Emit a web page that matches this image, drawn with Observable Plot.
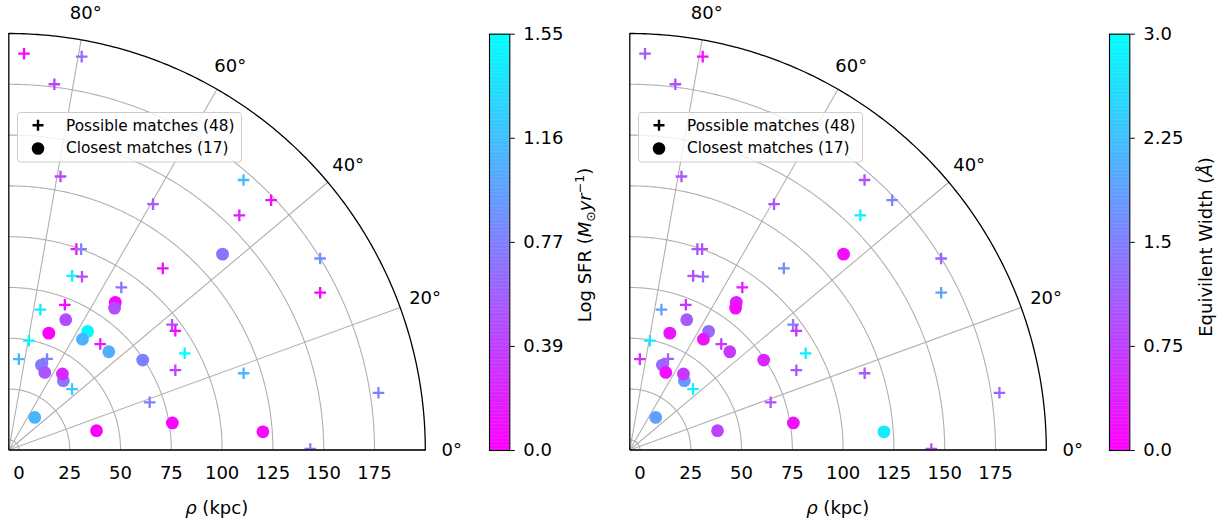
<!DOCTYPE html>
<html>
<head>
<meta charset="utf-8">
<script src="https://cdn.jsdelivr.net/npm/d3@7"></script>
<script src="https://cdn.jsdelivr.net/npm/@observablehq/plot@0.6"></script>
<style>
  html, body { margin: 0; padding: 0; background: #fff; }
  #root { position: relative; width: 1225px; height: 523px; overflow: hidden; font-family: "DejaVu Sans", sans-serif; color: #000; }
  .cblabel { position: absolute; white-space: nowrap; font-size: 18px; transform: translate(-50%, -50%) rotate(-90deg); }
  .cblabel sub, .cblabel sup { font-size: 12.5px; }
  .xlabel { position: absolute; white-space: nowrap; font-size: 18px; transform: translate(-50%, -50%); }
</style>
</head>
<body>
<div id="root"></div>
<script>
// ---------------- data ----------------
const rhoTicks = [0, 25, 50, 75, 100, 125, 150, 175];   // kpc
const thetaTicks = [0, 20, 40, 60, 80];                  // degrees
const R_MIN = -5, R_MAX = 200;                           // radial limits (kpc)

// Possible matches (visible in the 0-90 deg wedge)
const possibleRho   = [190.2, 191.9, 176.4, 132.0, 135.3, 171.1, 173.3, 156.9, 174.9, 166.7, 112.2, 99.3, 100.1, 86.2, 87.6, 92.3, 71.6, 65.8, 49.7, 40.0, 43.6, 63.9, 96.3, 95.8, 93.8, 85.9, 116.6, 38.2, 68.2, 179.1, 143.4];
const possibleTheta = [87.8, 79.5, 82.9, 79.3, 59.6, 49.0, 43.6, 45.5, 31.6, 26.8, 49.7, 71.4, 70.2, 70.0, 67.1, 55.3, 68.9, 77.3, 79.6, 83.7, 67.2, 49.2, 37.5, 35.6, 28.8, 25.6, 18.1, 43.9, 18.7, 8.8, 0.2];
const possibleSFR   = [0.03, 0.62, 0.39, 0.43, 0.54, 1.12, 0.05, 0.19, 0.90, 0.00, 0.08, 0.08, 0.78, 1.50, 0.47, 0.70, 0.08, 1.43, 1.47, 1.09, 0.78, 0.16, 0.47, 0.08, 1.55, 0.39, 1.12, 1.24, 0.78, 0.78, 0.78];
const possibleEW    = [1.05, 0.15, 0.90, 1.05, 0.96, 0.90, 1.56, 2.85, 1.20, 1.86, 1.65, 1.05, 0.90, 0.90, 1.20, 0.30, 0.60, 1.86, 2.70, 0.54, 1.14, 0.60, 1.50, 0.60, 2.85, 0.99, 1.05, 2.85, 0.90, 1.20, 0.90];

// Closest matches
const closestRho   = [137.7, 84.6, 82.1, 65.0, 55.8, 65.1, 60.5, 64.0, 74.4, 39.8, 37.1, 38.4, 40.8, 15.5, 39.2, 76.6, 120.4];
const closestTheta = [42.5, 54.2, 53.3, 66.4, 71.1, 56.4, 56.4, 44.5, 33.9, 69.0, 65.1, 51.8, 54.8, 51.5, 12.4, 9.4, 4.1];
const closestSFR   = [0.70, 0.03, 0.47, 0.47, 0.00, 1.50, 1.09, 1.05, 0.78, 0.74, 0.50, 0.74, 0.23, 1.09, 0.00, 0.03, 0.05];
const closestEW    = [0.15, 0.36, 0.15, 1.05, 0.24, 1.20, 0.24, 0.66, 0.45, 1.20, 0.15, 1.80, 0.66, 1.86, 0.75, 0.15, 2.76];

// colorbars
const sfrDomain = [0, 1.55];
const sfrTicks = [0, 0.3875, 0.775, 1.1625, 1.55];
const sfrTickLabels = ["0.0", "0.39", "0.77", "1.16", "1.55"];
const ewDomain = [0, 3.0];
const ewTicks = [0, 0.75, 1.5, 2.25, 3.0];
const ewTickLabels = ["0.0", "0.75", "1.5", "2.25", "3.0"];

const legendLabels = ["Possible matches (48)", "Closest matches (17)"];

// ---------------- helpers ----------------
const cmap = d3.interpolateRgb("#ff00ff", "#00ffff"); // cool_r
const rad = d => d * Math.PI / 180;
const X = (rho, th) => R_MIN + (rho - R_MIN) * Math.cos(rad(th));
const Y = (rho, th) => (rho - R_MIN) * Math.sin(rad(th));
const arc = r => d3.range(0, 90.25, 0.5).map(t => ({x: X(r, t), y: Y(r, t)}));
const LABEL_R = R_MIN + 443 / (416.5 / (R_MAX - R_MIN));

const plusSymbol = {
  draw(context, size) {
    const h = Math.sqrt(size / Math.PI);
    context.moveTo(-h, 0); context.lineTo(h, 0);
    context.moveTo(0, -h); context.lineTo(0, h);
  }
};

const baseStyle = {fontFamily: "'DejaVu Sans', sans-serif", fontSize: "18px", background: "transparent", overflow: "visible", color: "#000"};

function panel(pVals, cVals, domain) {
  const possible = possibleRho.map((r, i) => ({rho: r, theta: possibleTheta[i], v: pVals[i]}));
  const closest = closestRho.map((r, i) => ({rho: r, theta: closestTheta[i], v: cVals[i]}));
  return Plot.plot({
    width: 480, height: 523,
    marginLeft: 8.3, marginRight: 55.2, marginTop: 33, marginBottom: 73.5,
    style: baseStyle,
    x: {domain: [R_MIN, R_MAX], ticks: rhoTicks, tickSize: 0, tickPadding: 16, label: null, tickFormat: d => String(d)},
    y: {domain: [0, R_MAX - R_MIN], axis: null},
    color: {type: "linear", domain, interpolate: cmap},
    marks: [
      ...rhoTicks.map(r => Plot.line(arc(r), {x: "x", y: "y", stroke: "#b0b0b0", strokeWidth: 1.1})),
      Plot.link(thetaTicks, {x1: R_MIN, y1: 0, x2: t => X(R_MAX, t), y2: t => Y(R_MAX, t), stroke: "#b0b0b0", strokeWidth: 1.1}),
      Plot.dot(possible, {x: d => X(d.rho, d.theta), y: d => Y(d.rho, d.theta), stroke: "v", fill: "none", symbol: plusSymbol, r: 5.8, strokeWidth: 2.3, clip: true}),
      Plot.dot(closest, {x: d => X(d.rho, d.theta), y: d => Y(d.rho, d.theta), fill: "v", stroke: "none", r: 6.4, clip: true}),
      Plot.line(arc(R_MAX), {x: "x", y: "y", stroke: "black", strokeWidth: 1.3}),
      Plot.link([0], {x1: R_MIN, y1: 0, x2: R_MAX, y2: 0, stroke: "black", strokeWidth: 1.3}),
      Plot.link([0], {x1: R_MIN, y1: 0, x2: R_MIN, y2: R_MAX - R_MIN, stroke: "black", strokeWidth: 1.3}),
      Plot.text(thetaTicks, {x: t => X(LABEL_R, t), y: t => Y(LABEL_R, t), text: t => t + "°", fontSize: 18})
    ]
  });
}

function colorbar(domain, ticks, labels) {
  const n = 300;
  const span = domain[1] - domain[0];
  const bands = d3.range(n).map(i => ({y1: domain[0] + span * i / n, y2: Math.min(domain[1], domain[0] + span * (i + 1.3) / n), v: domain[0] + span * (i + 0.5) / n}));
  const lab = new Map(ticks.map((t, i) => [t, labels[i]]));
  return Plot.plot({
    width: 110, height: 523,
    marginLeft: 1, marginRight: 88.7, marginTop: 33.7, marginBottom: 73,
    style: baseStyle,
    x: {domain: [0, 1], axis: null},
    y: {domain, ticks, tickFormat: d => lab.get(d), axis: "right", tickSize: 4.5, tickPadding: 9, label: null},
    color: {type: "linear", domain, interpolate: cmap},
    marks: [
      Plot.rect(bands, {x1: 0, x2: 1, y1: "y1", y2: "y2", fill: "v"}),
      Plot.frame({stroke: "black", strokeWidth: 1.1})
    ]
  });
}

function legendSVG() {
  const ns = "http://www.w3.org/2000/svg";
  const svg = document.createElementNS(ns, "svg");
  svg.setAttribute("width", 226); svg.setAttribute("height", 52);
  svg.innerHTML = `
    <rect x="0.5" y="0.5" width="224" height="49.5" rx="3" ry="3" fill="white" fill-opacity="0.8" stroke="#cccccc" stroke-width="1"/>
    <path d="M15.5,13.2H26.5M21,7.7V18.7" stroke="black" stroke-width="2.4" fill="none"/>
    <circle cx="21" cy="36.5" r="6.3" fill="black"/>
    <text x="49" y="13.2" dy="0.36em" font-size="15.3" font-family="DejaVu Sans">${legendLabels[0]}</text>
    <text x="49" y="35.5" dy="0.36em" font-size="15.3" font-family="DejaVu Sans">${legendLabels[1]}</text>`;
  return svg;
}

const root = document.getElementById("root");
function place(el, left, top) {
  el.style.position = "absolute";
  el.style.left = left + "px";
  el.style.top = top + "px";
  root.appendChild(el);
}
function htmlLabel(cls, html, left, top) {
  const d = document.createElement("div");
  d.className = cls;
  d.innerHTML = html;
  place(d, left, top);
}

place(panel(possibleSFR, closestSFR, sfrDomain), 0, 0);
place(panel(possibleEW, closestEW, ewDomain), 621, 0);
place(legendSVG(), 16.5, 112.3);
place(legendSVG(), 637.5, 112.3);
place(colorbar(sfrDomain, sfrTicks, sfrTickLabels), 488, 0);
place(colorbar(ewDomain, ewTicks, ewTickLabels), 1108, 0);

htmlLabel("xlabel", '<i>ρ</i> (kpc)', 216.7, 507);
htmlLabel("xlabel", '<i>ρ</i> (kpc)', 837.7, 507);
htmlLabel("cblabel", 'Log SFR (<i>M</i><sub>⊙</sub><i>yr</i><sup>−1</sup>)', 585, 245);
htmlLabel("cblabel", 'Equivilent Width (<i>Å</i>)', 1205, 247);
</script>
</body>
</html>
